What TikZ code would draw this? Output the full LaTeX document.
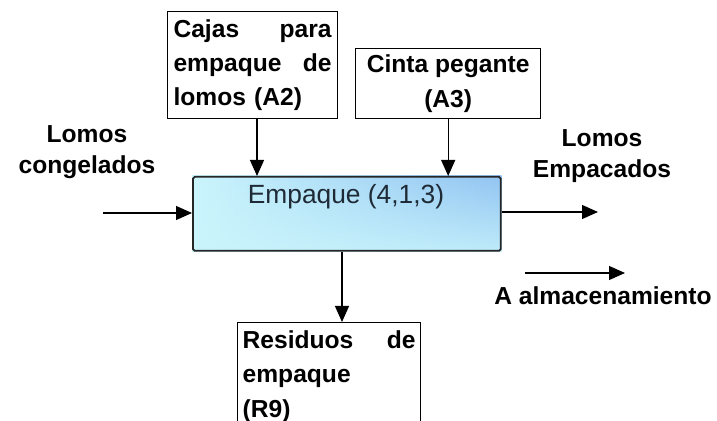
\documentclass[tikz,border=0pt]{standalone}
\usepackage{fontspec}
\setmainfont{Liberation Sans}
\usetikzlibrary{arrows.meta,fadings,backgrounds}
\definecolor{boxblue}{HTML}{92C4F2}
\definecolor{boxcyan}{HTML}{CAF5FC}
\definecolor{titlegray}{HTML}{1E2A36}
\tikzset{
  flow/.style={line width=0.7pt, -{Triangle[length=0.32cm, width=0.28cm]}},
  resbox/.style={draw, line width=0.8pt, font=\fontsize{14}{19.5}\selectfont\bfseries},
  tag/.style={font=\fontsize{14}{17.5}\selectfont\bfseries, align=center, inner sep=0pt}
}

\begin{document}
\begin{tikzpicture}[x=0.02cm, y=-0.02cm]
		%%%%% START %%%%%
		\useasboundingbox (0, 0) rectangle (717, 421);

		% resources
		\node[resbox, anchor=north west, minimum width=3.34cm, minimum height=2.14cm,
		      text width=3.16cm, align=left] (cajas) at (167, 11)
		      {Cajas\hfill para\\empaque\hfill de\\lomos (A2)};
		\node[resbox, anchor=north west, minimum width=3.7cm, minimum height=1.4cm,
		      align=center] (cinta) at (355, 48) {Cinta pegante\\(A3)};

		% process
		\node[draw=black!85, line width=1pt, rounded corners=1pt, anchor=north west,
		      minimum width=6.16cm, minimum height=1.48cm] (empaque) at (192, 176) {};
		\begin{scope}[on background layer]
		\shade[left color=boxcyan, right color=boxblue]
		      (empaque.north west) rectangle (empaque.south east);
		\fill[boxcyan, path fading=north, fill opacity=0.8]
		      (empaque.north west) rectangle (empaque.south east);
		\end{scope}
		\node[font=\fontsize{15}{18}\selectfont, text=titlegray, inner sep=0pt]
		      (empaqueTitulo) at (346, 197) {Empaque (4,1,3)};

		% residue
		\node[resbox, anchor=north west, minimum width=3.66cm, text width=3.46cm,
		      inner xsep=0.1cm, inner ysep=0.16cm, align=left] (residuos) at (237, 322)
		      {Residuos\hfill de\\empaque\\(R9)};

		\draw[flow] (cajas.south -| 257, 0) -- (empaque.north -| 257, 0);
		\draw[flow] (cinta.south) -- (cinta.south |- empaque.north);
		\draw[flow] (empaque.south -| 342, 0) -- (residuos.north -| 342, 0);

		% in / out
		\coordinate (entrada) at (103, 213);
		\coordinate (salida) at (598, 212);
		\coordinate (almIni) at (525, 273);
		\coordinate (almFin) at (625, 273);
		\draw[flow] (entrada) -- (entrada -| empaque.west);
		\draw[flow] (salida -| empaque.east) -- (salida);
		\draw[flow] (almIni) -- (almFin);

		\node[tag] (lomosIn) at (87, 152) {Lomos\\congelados};
		\node[tag] (lomosOut) at (602, 156) {Lomos\\Empacados};
		\node[tag] (almacen) at (603, 296) {A almacenamiento};
		%%%%% END %%%%%
	\end{tikzpicture}
\end{document}
